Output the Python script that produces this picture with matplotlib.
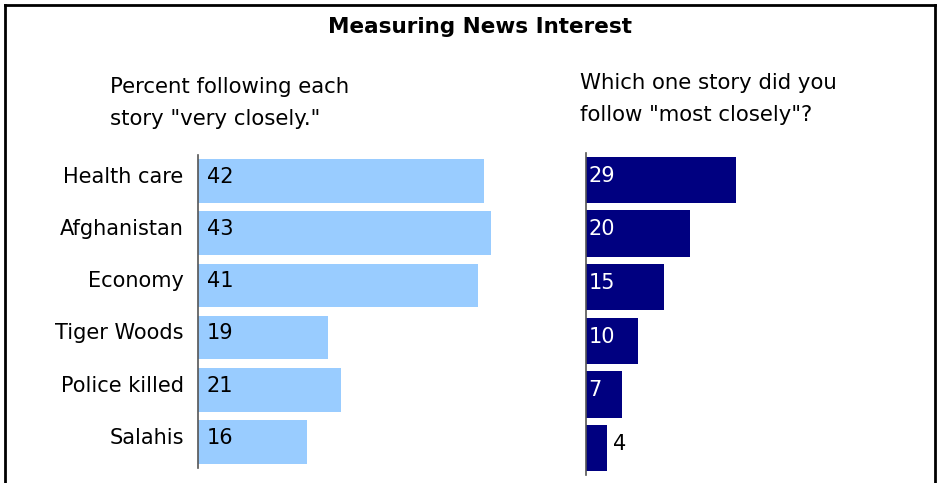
import matplotlib.pyplot as plt
from matplotlib.lines import Line2D

plt.rcParams['font.family'] = ['DejaVu Sans']

stories = ["Health care", "Afghanistan", "Economy", "Tiger Woods", "Police killed", "Salahis"]
very_closely = [42, 43, 41, 19, 21, 16]
most_closely = [29, 20, 15, 10, 7, 4]

W, H = 938, 483
fig = plt.figure(figsize=(W / 100, H / 100), dpi=100)


def px_axes(x0, y0, x1, y1):
    # pixel box (top-left origin) -> figure axes
    return fig.add_axes([x0 / W, 1 - y1 / H, (x1 - x0) / W, (y1 - y0) / H])


def fy(y):
    return 1 - y / H


# 框线
fig.add_artist(Line2D([5 / W, 5 / W], [0, fy(5)], color="black", lw=2))
fig.add_artist(Line2D([5 / W, 935 / W], [fy(5), fy(5)], color="black", lw=2))
fig.add_artist(Line2D([935 / W, 935 / W], [0, fy(5)], color="black", lw=2))

fig.text(480 / W, fy(33), "Measuring News Interest", ha="center", va="baseline",
         fontsize=15.5, fontweight="bold")
fig.text(110 / W, fy(93), "Percent following each", ha="left", va="baseline", fontsize=15.3)
fig.text(110 / W, fy(125), 'story "very closely."', ha="left", va="baseline", fontsize=15.3)
fig.text(580 / W, fy(89), "Which one story did you", ha="left", va="baseline", fontsize=15.3)
fig.text(580 / W, fy(121), 'follow "most closely"?', ha="left", va="baseline", fontsize=15.3)

y = list(range(len(stories)))
dy = -0.08  # 文字略高于柱中心

# 左图
ax1 = px_axes(198, 155, 198 + 50 * 6.82, 468)
ax1.barh(y, very_closely, height=0.84, color="#99CCFF")
ax1.set_xlim(0, 50)
ax1.set_ylim(5.5, -0.5)
for i, v in enumerate(very_closely):
    ax1.text(1.3, i + dy, str(v), ha="left", va="center", fontsize=15, color="black")
for i, s in enumerate(stories):
    ax1.text(-2.1, i + dy, s, ha="right", va="center", fontsize=15, color="black")

# 右图
ax2 = px_axes(586, 153, 586 + 60 * 5.18, 475)
ax2.barh(y, most_closely, height=0.86, color="#000080")
ax2.set_xlim(0, 60)
ax2.set_ylim(5.5, -0.5)
for i, v in enumerate(most_closely):
    if v >= 6:
        ax2.text(0.5, i + dy, str(v), ha="left", va="center", fontsize=15, color="white")
    else:
        ax2.text(v + 1.3, i + dy, str(v), ha="left", va="center", fontsize=15, color="black")

for ax in (ax1, ax2):
    ax.set_xticks([])
    ax.set_yticks([])
    for side in ("top", "right", "bottom"):
        ax.spines[side].set_visible(False)
    ax.spines["left"].set_color("#555555")
    ax.spines["left"].set_linewidth(1.2)
    ax.patch.set_alpha(0)

fig.savefig("out.png", dpi=100)
